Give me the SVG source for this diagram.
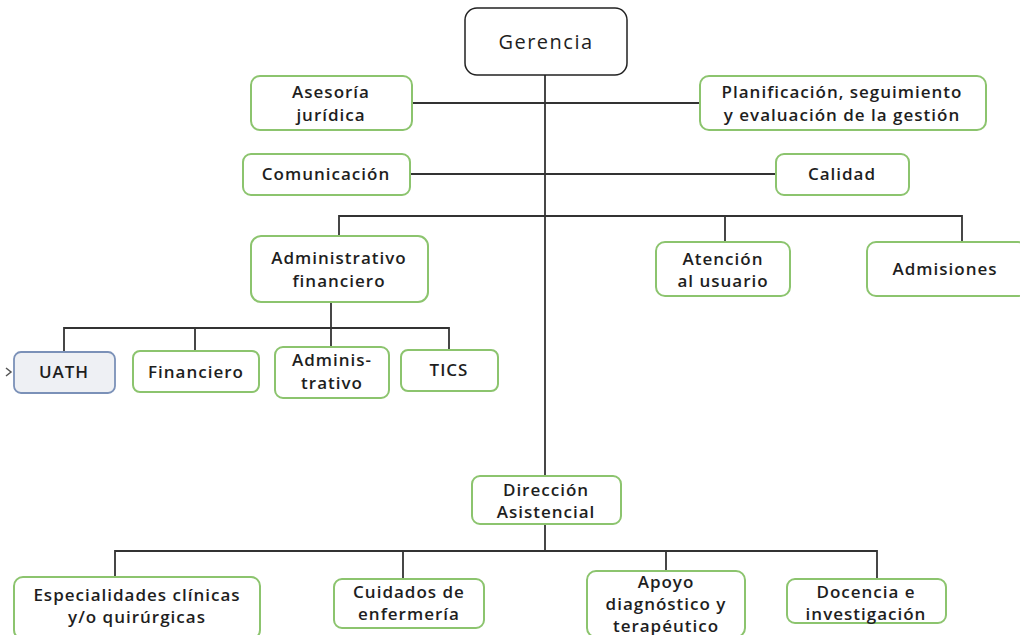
<svg xmlns="http://www.w3.org/2000/svg" width="1020" height="635" viewBox="0 0 1020 635">
<style>
.bg{fill:#ffffff}
.box{fill:#ffffff;stroke:#8cc46e;stroke-width:2}
.top{fill:#ffffff;stroke:#222;stroke-width:1.5}
.uath{fill:#eef0f4;stroke:#7b91b8;stroke-width:1.8}
.ln{stroke:#333;stroke-width:1.8;fill:none}
text{font-family:"Open Sans","Liberation Sans",sans-serif;font-size:17px;letter-spacing:1px;font-weight:600;fill:#1e1e1e;text-anchor:middle}
.big{font-size:20px;font-weight:500;letter-spacing:1.5px}
</style>
<rect class="bg" x="0" y="0" width="1020" height="635"/>
<g id="connectors">
<path class="ln" d="M545 75 V476 M545 524 V551"/>
<path class="ln" d="M412 103 H700 M410 174 H776"/>
<path class="ln" d="M339 236 V216 H962 V242 M725 216 V242"/>
<path class="ln" d="M331 302 V347 M64 352 V328 H449 V350 M195 328 V351"/>
<path class="ln" d="M115 577 V551 H877 V579 M403 551 V579 M666 551 V571"/>
<path d="M6 368 L11 372 L6 376" fill="none" stroke="#555" stroke-width="1.5"/>
</g>
<g id="gerencia"><rect class="top" x="465" y="8" width="162" height="67" rx="12"/><text class="big" x="546" y="49">Gerencia</text></g>
<g id="asesoria"><rect class="box" x="251" y="76" width="161" height="54" rx="9"/><text x="331" y="98">Asesoría</text><text x="331" y="121">jurídica</text></g>
<g id="planificacion"><rect class="box" x="700" y="76" width="286" height="54" rx="9"/><text x="842" y="98">Planificación, seguimiento</text><text x="842" y="121">y evaluación de la gestión</text></g>
<g id="comunicacion"><rect class="box" x="243" y="154" width="167" height="41" rx="8"/><text x="326" y="180">Comunicación</text></g>
<g id="calidad"><rect class="box" x="776" y="154" width="133" height="41" rx="8"/><text x="842" y="180">Calidad</text></g>
<g id="admfin"><rect class="box" x="251" y="236" width="177" height="66" rx="10"/><text x="339" y="264">Administrativo</text><text x="339" y="287">financiero</text></g>
<g id="atencion"><rect class="box" x="656" y="242" width="134" height="54" rx="9"/><text x="723" y="265">Atención</text><text x="723" y="287">al usuario</text></g>
<g id="admisiones"><rect class="box" x="867" y="242" width="160" height="54" rx="9"/><text x="945" y="275">Admisiones</text></g>
<g id="uath"><rect class="uath" x="14" y="352" width="101" height="41" rx="7"/><text x="64" y="378">UATH</text></g>
<g id="financiero"><rect class="box" x="133" y="351" width="126" height="41" rx="7"/><text x="196" y="378">Financiero</text></g>
<g id="administrativo"><rect class="box" x="275" y="347" width="114" height="51" rx="8"/><text x="332" y="366">Adminis-</text><text x="332" y="389">trativo</text></g>
<g id="tics"><rect class="box" x="401" y="350" width="97" height="41" rx="7"/><text x="449" y="376">TICS</text></g>
<g id="direccion"><rect class="box" x="472" y="476" width="149" height="48" rx="8"/><text x="546" y="496">Dirección</text><text x="546" y="518">Asistencial</text></g>
<g id="especialidades"><rect class="box" x="14" y="577" width="246" height="62" rx="9"/><text x="137" y="601">Especialidades clínicas</text><text x="137" y="623">y/o quirúrgicas</text></g>
<g id="cuidados"><rect class="box" x="334" y="579" width="150" height="49" rx="8"/><text x="409" y="598">Cuidados de</text><text x="409" y="620">enfermería</text></g>
<g id="apoyo"><rect class="box" x="587" y="571" width="158" height="66" rx="9"/><text x="666" y="588">Apoyo</text><text x="666" y="610">diagnóstico y</text><text x="666" y="632">terapéutico</text></g>
<g id="docencia"><rect class="box" x="787" y="579" width="159" height="44" rx="8"/><text x="866" y="598">Docencia e</text><text x="866" y="620">investigación</text></g>
</svg>
